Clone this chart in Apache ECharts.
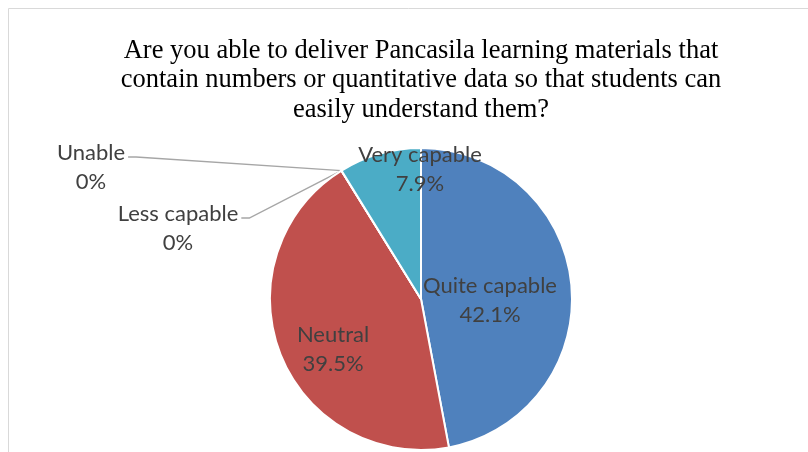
<!DOCTYPE html>
<html>
<head>
<meta charset="utf-8">
<script src="https://cdn.jsdelivr.net/npm/echarts@6/dist/echarts.min.js"></script>
<style>
  html, body { margin: 0; padding: 0; background: #fff; }
  #chart { width: 808px; height: 452px; }
</style>
</head>
<body>
<div id="chart"></div>
<script>
// answers, clockwise from 12 o'clock
const categories = ['Quite capable', 'Neutral', 'Less capable', 'Unable', 'Very capable'];
const percents = [42.1, 39.5, 0, 0, 7.9];
const sliceColors = ['#4F81BD', '#C0504D', '#9BBB59', '#8064A2', '#4BACC6'];
// where each label block is centred (Excel best-fit placement)
const labelPos = [[490, 300], [333, 349], [178, 228], [91, 167], [420, 169]];

const chart = echarts.init(document.getElementById('chart'));

const option = {
  animation: false,
  title: {
    text: 'Are you able to deliver Pancasila learning materials that\ncontain numbers or quantitative data so that students can\neasily understand them?',
    left: 416,
    top: 31,
    textAlign: 'center',
    textStyle: {
      fontFamily: '"Liberation Serif", "Times New Roman", serif',
      fontSize: 26.5,
      fontWeight: 'normal',
      color: '#000',
      lineHeight: 29.5
    }
  },
  graphic: [{
    type: 'rect',
    shape: { x: 8.5, y: 8.5, width: 1000, height: 1000 },
    style: { fill: 'none', stroke: '#d9d9d9', lineWidth: 1 },
    silent: true
  }],
  series: [{
    type: 'pie',
    center: [421, 299],
    radius: 151,
    startAngle: 90,
    clockwise: true,
    avoidLabelOverlap: false,
    itemStyle: { borderColor: '#fff', borderWidth: 2 },
    label: {
      show: true,
      position: 'inside',
      formatter: p => p.name + '\n' + p.value + '%',
      fontFamily: 'Lato, "Open Sans", sans-serif',
      fontSize: 22,
      lineHeight: 29,
      color: '#404040'
    },
    labelLine: { show: false },
    labelLayout: function (params) {
      const i = params.dataIndex;
      const out = {
        x: labelPos[i][0],
        y: labelPos[i][1],
        align: 'center',
        verticalAlign: 'middle'
      };
      if (percents[i] === 0) {
        const start = params.labelLinePoints ? params.labelLinePoints[0] : [343, 172];
        const r = params.labelRect;
        const ex = labelPos[i][0] + r.width / 2 + 3;
        const ey = labelPos[i][1] - 10;
        out.labelLinePoints = [start, [ex + 8, ey], [ex, ey]];
      }
      return out;
    },
    data: categories.map((c, i) => {
      const d = { name: c, value: percents[i], itemStyle: { color: sliceColors[i] } };
      if (percents[i] === 0) {
        d.label = { position: 'outside' };
        d.labelLine = { show: true, length: 10, length2: 10, lineStyle: { color: '#a6a6a6', width: 1.4 } };
      }
      return d;
    })
  }]
};

chart.setOption(option);
</script>
</body>
</html>
